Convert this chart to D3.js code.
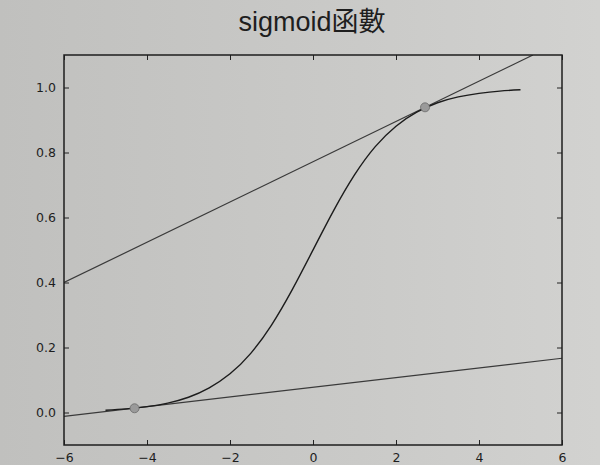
<!DOCTYPE html>
<html>
<head>
<meta charset="utf-8">
<script src="https://cdn.jsdelivr.net/npm/d3@7"></script>
<style>
  html, body { margin: 0; padding: 0; background: #c8c8c6; }
  svg { display: block; }
</style>
</head>
<body>
<svg id="chart" width="600" height="465"></svg>
<script>
// ---- data ----
const titleText = "sigmoid函數";
const curveX = [-5, -4.5, -4, -3.5, -3, -2.5, -2, -1.5, -1, -0.5, 0, 0.5, 1, 1.5, 2, 2.5, 3, 3.5, 4, 4.5, 5];
const curveY = [0.007, 0.011, 0.018, 0.029, 0.047, 0.076, 0.119, 0.182, 0.269, 0.378, 0.50, 0.622, 0.731, 0.818, 0.881, 0.924, 0.953, 0.971, 0.982, 0.989, 0.993];
const upperTangentX = [-6, 5.3];
const upperTangentY = [0.40, 1.10];
const lowerTangentX = [-6, 6];
const lowerTangentY = [-0.012, 0.167];
const markerX = [-4.3, 2.7];
const markerY = [0.013, 0.939];
const xTicks = [-6, -4, -2, 0, 2, 4, 6];
const yTicks = [0.0, 0.2, 0.4, 0.6, 0.8, 1.0];
const xDomain = [-6, 6];
const yDomain = [-0.1, 1.1];

// ---- layout ----
const W = 600, H = 465;
const M = { left: 64, right: 38, top: 55, bottom: 20 };
const svg = d3.select("#chart");

const defs = svg.append("defs");
const grad = defs.append("linearGradient").attr("id", "paper")
  .attr("x1", "0").attr("y1", "0").attr("x2", "1").attr("y2", "0");
grad.append("stop").attr("offset", "0").attr("stop-color", "#c0c0be");
grad.append("stop").attr("offset", "0.6").attr("stop-color", "#cacac8");
grad.append("stop").attr("offset", "1").attr("stop-color", "#d2d2d0");
svg.append("rect").attr("width", W).attr("height", H).attr("fill", "url(#paper)");

const x = d3.scaleLinear().domain(xDomain).range([M.left, W - M.right]);
const y = d3.scaleLinear().domain(yDomain).range([H - M.bottom, M.top]);

// title
svg.append("text")
  .attr("x", 312).attr("y", 31)
  .attr("text-anchor", "middle")
  .attr("font-family", "'Liberation Sans', 'Noto Sans CJK TC', sans-serif")
  .attr("font-size", 27)
  .attr("fill", "#1e1e1e")
  .text(titleText);

// clip for the plot area
defs.append("clipPath").attr("id", "plotClip")
  .append("rect")
  .attr("x", M.left).attr("y", M.top)
  .attr("width", W - M.left - M.right).attr("height", H - M.top - M.bottom);

const plot = svg.append("g").attr("clip-path", "url(#plotClip)");

const line = d3.line().x(d => x(d[0])).y(d => y(d[1]));

// tangent lines
plot.append("path")
  .datum(upperTangentX.map((v, i) => [v, upperTangentY[i]]))
  .attr("d", line)
  .attr("fill", "none").attr("stroke", "#3a3a3a").attr("stroke-width", 1.2);
plot.append("path")
  .datum(lowerTangentX.map((v, i) => [v, lowerTangentY[i]]))
  .attr("d", line)
  .attr("fill", "none").attr("stroke", "#3a3a3a").attr("stroke-width", 1.2);

// sigmoid curve
const smooth = d3.line().x(d => x(d[0])).y(d => y(d[1])).curve(d3.curveNatural);
plot.append("path")
  .datum(curveX.map((v, i) => [v, curveY[i]]))
  .attr("d", smooth)
  .attr("fill", "none").attr("stroke", "#1c1c1c").attr("stroke-width", 1.4);

// markers
plot.selectAll("circle.m")
  .data(markerX.map((v, i) => [v, markerY[i]]))
  .join("circle")
  .attr("class", "m")
  .attr("cx", d => x(d[0])).attr("cy", d => y(d[1]))
  .attr("r", 4.5)
  .attr("fill", "#9a9a9a").attr("stroke", "#6a6a6a").attr("stroke-width", 0.8);

// axes (ticks inward, on all four sides)
const tickFont = "'DejaVu Sans', sans-serif";
const xAxisB = d3.axisBottom(x).tickValues(xTicks).tickSizeInner(-5).tickSizeOuter(0)
  .tickPadding(8).tickFormat(d => d3.format("d")(d).replace("-", "\u2212"));
const xAxisT = d3.axisTop(x).tickValues(xTicks).tickSizeInner(-5).tickSizeOuter(0).tickFormat("");
const yAxisL = d3.axisLeft(y).tickValues(yTicks).tickSizeInner(-5).tickSizeOuter(0)
  .tickPadding(8).tickFormat(d3.format(".1f"));
const yAxisR = d3.axisRight(y).tickValues(yTicks).tickSizeInner(-5).tickSizeOuter(0).tickFormat("");

function style(g) {
  g.select(".domain").remove();
  g.selectAll(".tick line").attr("stroke", "#222").attr("stroke-width", 1);
  g.selectAll(".tick text").attr("fill", "#1e1e1e")
    .attr("font-family", tickFont).attr("font-size", 12.5);
}
svg.append("g").attr("transform", `translate(0,${H - M.bottom})`).call(xAxisB).call(style);
svg.append("g").attr("transform", `translate(0,${M.top})`).call(xAxisT).call(style);
svg.append("g").attr("transform", `translate(${M.left},0)`).call(yAxisL).call(style);
svg.append("g").attr("transform", `translate(${W - M.right},0)`).call(yAxisR).call(style);

// frame
svg.append("rect")
  .attr("x", M.left).attr("y", M.top)
  .attr("width", W - M.left - M.right).attr("height", H - M.top - M.bottom)
  .attr("fill", "none").attr("stroke", "#1e1e1e").attr("stroke-width", 1.5);
</script>
</body>
</html>
